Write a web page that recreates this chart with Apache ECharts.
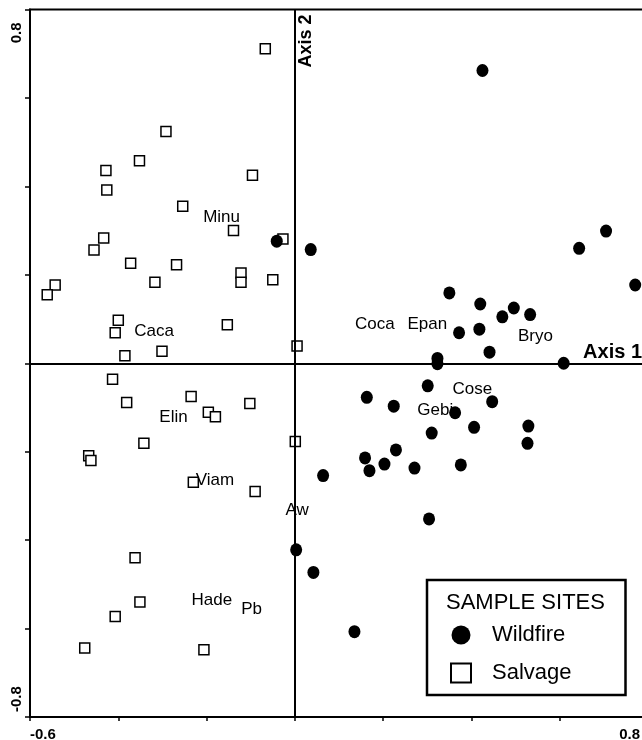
<!DOCTYPE html>
<html><head><meta charset="utf-8">
<script src="https://cdn.jsdelivr.net/npm/echarts@6/dist/echarts.min.js"></script>
<style>html,body{margin:0;padding:0;background:#fff}#c{width:642px;height:740px}</style>
</head><body><div id="c"></div>
<script>
const FONT = '"Liberation Sans", Arial, sans-serif';

const salvageX = [-0.067,-0.292,-0.352,-0.428,-0.426,-0.096,-0.254,-0.139,-0.027,-0.433,-0.455,-0.372,-0.268,-0.122,-0.122,-0.050,-0.317,-0.543,-0.561,-0.400,-0.407,-0.153,0.005,-0.385,-0.301,-0.413,-0.381,-0.235,-0.102,-0.196,-0.180,-0.342,0.001,-0.467,-0.462,-0.230,-0.090,-0.362,-0.351,-0.407,-0.476,-0.206];
const salvageY = [0.711,0.524,0.458,0.436,0.392,0.425,0.355,0.300,0.281,0.283,0.256,0.226,0.223,0.204,0.183,0.189,0.183,0.177,0.155,0.097,0.069,0.087,0.039,0.017,0.027,-0.036,-0.089,-0.075,-0.091,-0.111,-0.121,-0.181,-0.177,-0.209,-0.220,-0.269,-0.290,-0.440,-0.540,-0.573,-0.644,-0.648];

const wildfireX = [0.425,0.705,0.644,0.771,0.350,0.420,0.496,0.470,0.533,0.372,0.418,0.441,0.323,0.323,0.609,0.301,0.163,0.224,0.447,0.363,0.310,0.406,0.529,0.527,0.229,0.159,0.169,0.203,0.271,0.376,0.064,0.304,0.135,0.003,0.042,-0.041,0.036];
const wildfireY = [0.662,0.299,0.260,0.177,0.159,0.134,0.125,0.105,0.110,0.069,0.077,0.025,0.011,-0.001,0.000,-0.051,-0.077,-0.097,-0.087,-0.112,-0.158,-0.145,-0.142,-0.181,-0.196,-0.214,-0.243,-0.228,-0.237,-0.230,-0.254,-0.352,-0.607,-0.422,-0.473,0.276,0.257];

const speciesNames = ['Minu','Caca','Elin','Viam','Aw','Hade','Pb','Coca','Epan','Bryo','Cose','Gebi'];
const speciesX = [-0.166,-0.319,-0.275,-0.181,0.005,-0.188,-0.098,0.181,0.300,0.545,0.402,0.318];
const speciesY = [0.330,0.072,-0.122,-0.264,-0.333,-0.537,-0.556,0.089,0.089,0.060,-0.058,-0.107];

const xTickLabels = ['-0.6','0.8'];
const yTickLabels = ['-0.8','0.8'];
const axisNames = ['Axis 1','Axis 2'];
const seriesNames = ['Wildfire','Salvage'];
const legendTitle = 'SAMPLE SITES';

function pickLabel(list){
  return function(v){ const s = (Math.round(v*10)/10).toFixed(1); return list.indexOf(s) >= 0 ? s : ''; };
}

const chart = echarts.init(document.getElementById('c'), null, {renderer:'canvas'});
chart.setOption({
  animation:false,
  backgroundColor:'#fff',
  title:{text:legendTitle, left:446, top:592, padding:0,
    textStyle:{fontSize:22, fontWeight:'normal', color:'#000', fontFamily:FONT, lineHeight:22}},
  legend:{orient:'vertical', left:427, top:580, data:seriesNames, selectedMode:false,
    itemWidth:20, itemHeight:19, itemGap:16, padding:[44,54,11,23],
    borderColor:'#000', borderWidth:2.5,
    textStyle:{fontSize:22, color:'#000', fontFamily:FONT, lineHeight:22, padding:[0,0,0,16]}},
  grid:{left:30, right:-6, top:9.5, bottom:23, show:true, borderColor:'#000', borderWidth:2, containLabel:false, outerBoundsMode:'none'},
  xAxis:{type:'value', min:-0.6, max:0.8, interval:0.2,
    splitLine:{show:false},
    axisLine:{onZero:false, lineStyle:{color:'#000', width:2}},
    axisTick:{length:4, lineStyle:{color:'#000', width:1.5}},
    axisLabel:{margin:10, fontSize:15, fontWeight:'bold', color:'#000', fontFamily:FONT,
      formatter:pickLabel(xTickLabels), showMinLabel:true, showMaxLabel:true,
      alignMinLabel:'left', alignMaxLabel:'right', padding:[0,8,0,0]}},
  yAxis:{type:'value', min:-0.8, max:0.8, interval:0.2,
    splitLine:{show:false},
    axisLine:{onZero:false, lineStyle:{color:'#000', width:2}},
    axisTick:{length:5, lineStyle:{color:'#000', width:1.5}},
    axisLabel:{rotate:90, margin:6, fontSize:15, fontWeight:'bold', color:'#000', fontFamily:FONT,
      formatter:pickLabel(yTickLabels), showMinLabel:true, showMaxLabel:true,
      alignMinLabel:'left', alignMaxLabel:'right', padding:[0,13,0,5]}},
  series:[
    {name:seriesNames[1], type:'scatter', symbol:'rect', symbolSize:10,
      itemStyle:{color:'#fff', borderColor:'#000', borderWidth:1.5, opacity:1},
      data:salvageX.map((x,i)=>[x, salvageY[i]]), z:2,
      markLine:{silent:true, symbol:'none', animation:false,
        lineStyle:{color:'#000', width:2, type:'solid', opacity:1},
        emphasis:{disabled:true},
        data:[
          {xAxis:0, label:{show:true, formatter:axisNames[1], position:'insideEndBottom', distance:[5,2],
            fontSize:18, fontWeight:'bold', color:'#000', fontFamily:FONT}},
          {yAxis:0, label:{show:true, formatter:axisNames[0], position:'insideEndTop', distance:[6,1],
            fontSize:20, fontWeight:'bold', color:'#000', fontFamily:FONT}}
        ]}},
    {name:seriesNames[0], type:'scatter', symbol:'circle', symbolSize:[12,13],
      itemStyle:{color:'#000', opacity:1}, z:3,
      data:wildfireX.map((x,i)=>[x, wildfireY[i]])},
    {name:'species', type:'scatter', symbolSize:0, silent:true, z:4,
      itemStyle:{opacity:1},
      label:{show:true, position:'inside', formatter:'{b}', fontSize:17, color:'#000', fontFamily:FONT, opacity:1},
      data:speciesNames.map((n,i)=>({name:n, value:[speciesX[i], speciesY[i]]}))}
  ]
});
</script></body></html>
